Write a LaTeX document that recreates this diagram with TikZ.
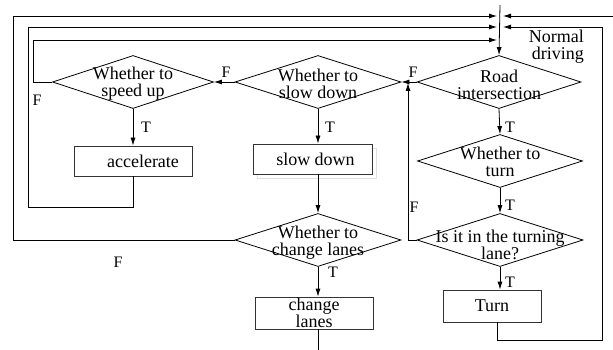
\documentclass[tikz,border=0pt]{standalone}
\usepackage{fontspec}
\setmainfont{Liberation Serif}
\usetikzlibrary{shapes.geometric,arrows.meta}

\tikzset{
  every picture/.style={x=1pt,y=-1pt},
  base/.style={line width=0.8pt,draw=black},
  txt/.style={font=\fontsize{18}{17}\selectfont,align=center,inner sep=0pt},
  dec/.style={base,shape=diamond,inner sep=0pt,minimum width=#1,minimum height=53pt},
  act/.style={base,draw=black!80,shape=rectangle,inner sep=0pt,minimum height=30pt,
              font=\fontsize{18}{17}\selectfont,align=center},
  flow/.style={base,-{Latex[length=8pt,width=5pt]}},
  line/.style={base},
  tag/.style={font=\fontsize{16}{16}\selectfont,inner sep=0pt},
}

\begin{document}
\begin{tikzpicture}
\useasboundingbox (0,0) rectangle (613,350);

% decision diamonds
\node[dec=161pt] (speed) at (133,82) {};
\node[txt] (speedt) at (133,84) {Whether to\\speed up};
\node[dec=166pt] (slow) at (318,82) {};
\node[txt] (slowt) at (318,84) {Whether to\\slow down};
\node[dec=164pt] (road) at (499,82) {};
\node[txt] (roadt) at (499,85) {Road\\intersection};
\node[dec=165pt] (turn) at (500,161) {};
\node[txt] (turnt) at (500,162) {Whether to\\turn};
\node[dec=166pt] (lane) at (500,240) {};
\node[txt] (lanet) at (500,245) {Is it in the turning\\lane?};
\node[dec=166pt] (chg) at (318,240) {};
\node[txt] (chgt) at (318,243) {Whether to\\change lanes};

% action boxes
\node[act,minimum width=118pt] (acc) at (133,161) {\hspace*{20pt}accelerate};
\draw[black!12,line width=0.8pt] (257,148) rectangle (376,178);
\node[act,minimum width=119pt,fill=white] (sd) at (312.5,159) {\hspace*{6pt}slow down};
\node[act,minimum width=118pt,minimum height=32pt] (cl) at (314,313) {change\\lanes};
\node[act,minimum width=98pt,minimum height=32pt] (tb) at (492,306) {Turn};

% entry and loop-back points on the main line
\coordinate (entry) at (500,5);
\coordinate (m1) at (497,16);
\coordinate (m2) at (497,27);
\coordinate (m3) at (497,40);
\coordinate (r1) at (503,16);
\coordinate (r2) at (503,27);
\coordinate (east) at (613,16);
\coordinate (clend) at (318,350);
\coordinate (fjoin) at (408,83);

% main flow
\draw[flow] (entry) -- (road.north);
\draw[flow] (road.west) -- (slow.east);
\draw[flow] (slow.west) -- (speed.east);
\draw[flow] (speed.south) -- (acc.north);
\draw[flow] (slow.south) -- (slow.south |- sd.north);
\draw[flow] (slow.south |- sd.south) -- (chg.north);
\draw[flow] (chg.south) -- (chg.south |- cl.north);
\draw[line] (chg.south |- cl.south) -- (clend);
\draw[flow] (road.south) -- (turn.north);
\draw[flow] (turn.south) -- (lane.north);
\draw[flow] (lane.south) -- (lane.south |- tb.north);

% loops back to the top
\draw[flow] (lane.west) -- (408,240) -- (fjoin);
\draw[flow] (speed.west) -- (33,82) -- (33,40) -- (m3);
\draw[flow] (acc.south) -- (133,207) -- (28,207) -- (28,27) -- (m2);
\draw[flow] (chg.west) -- (13,240) -- (13,16) -- (m1);
\draw[flow] (497,322) -- (497,340) -- (602,340) -- (602,27) -- (r2);
\draw[flow] (east) -- (r1);

% branch labels
\node[tag] (f1) at (37,100) {F};
\node[tag] (f2) at (226,72) {F};
\node[tag] (f3) at (413,72) {F};
\node[tag] (f4) at (414,207) {F};
\node[tag] (f5) at (118,262) {F};
\node[tag] (t1) at (146,127) {T};
\node[tag] (t2) at (330,127) {T};
\node[tag] (t3) at (510,127) {T};
\node[tag] (t4) at (510,205) {T};
\node[tag] (t5) at (333,272) {T};
\node[tag] (t6) at (510,282) {T};
\node[txt,align=right,anchor=east] (nd) at (584,47) {Normal\\driving};
\end{tikzpicture}
\end{document}
